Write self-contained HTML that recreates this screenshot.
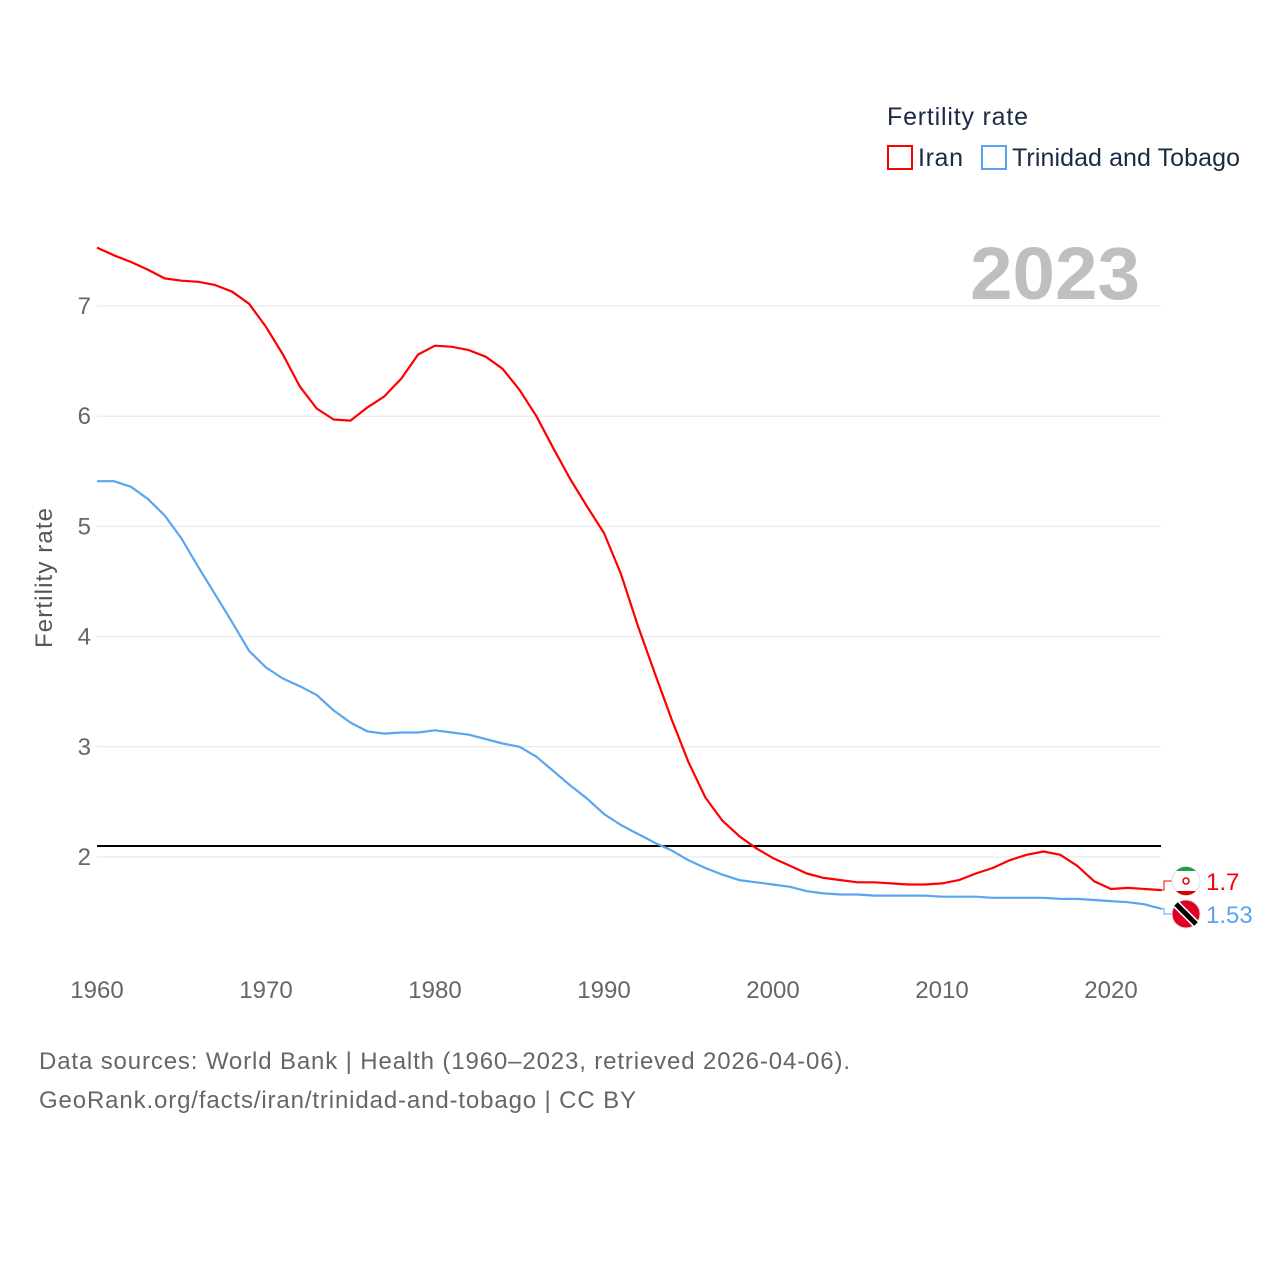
<!DOCTYPE html>
<html><head><meta charset="utf-8"><style>
body{margin:0;background:#fff;font-family:"Liberation Sans",sans-serif;}
svg text{font-family:"Liberation Sans",sans-serif;}
</style></head><body>
<svg width="1280" height="1280" viewBox="0 0 1280 1280">
<rect width="1280" height="1280" fill="#fff"/>
<g id="grid"></g>
<g id="series"></g>
<text x="970" y="299" textLength="170" lengthAdjust="spacingAndGlyphs" font-size="74" font-weight="bold" fill="#bfbfbf">2023</text>
<text x="52" y="578" transform="rotate(-90 52 578)" text-anchor="middle" textLength="140" font-size="24" fill="#555">Fertility rate</text>
<g>
<text x="887" y="125" textLength="141" font-size="25" fill="#1a2a44">Fertility rate</text>
<rect x="888" y="146" width="24" height="23" fill="none" stroke="#ff0000" stroke-width="2"/>
<text x="918" y="166" textLength="45" font-size="25" fill="#1a2a44">Iran</text>
<rect x="982" y="146" width="24" height="23" fill="none" stroke="#5aa5ef" stroke-width="2"/>
<text x="1012" y="166" textLength="228" font-size="25" fill="#1a2a44">Trinidad and Tobago</text>
</g>
<text x="39" y="1069" textLength="811" font-size="24" fill="#666">Data sources: World Bank | Health (1960–2023, retrieved 2026-04-06).</text>
<text x="39" y="1108" textLength="597" font-size="24" fill="#666">GeoRank.org/facts/iran/trinidad-and-tobago | CC BY</text>
</svg>
<script>
const years=[];for(let y=1960;y<=2023;y++)years.push(y);
const iran=[7.53,7.46,7.40,7.33,7.25,7.23,7.22,7.19,7.13,7.02,6.81,6.56,6.27,6.07,5.97,5.96,6.08,6.18,6.34,6.56,6.64,6.63,6.60,6.54,6.43,6.24,6.00,5.71,5.43,5.18,4.94,4.57,4.10,3.67,3.25,2.86,2.54,2.33,2.19,2.08,1.99,1.92,1.85,1.81,1.79,1.77,1.77,1.76,1.75,1.75,1.76,1.79,1.85,1.90,1.97,2.02,2.05,2.02,1.92,1.78,1.71,1.72,1.71,1.70];
const tt=[5.41,5.41,5.36,5.25,5.10,4.89,4.63,4.38,4.13,3.87,3.72,3.62,3.55,3.47,3.33,3.22,3.14,3.12,3.13,3.13,3.15,3.13,3.11,3.07,3.03,3.00,2.91,2.78,2.65,2.53,2.39,2.29,2.21,2.13,2.06,1.97,1.90,1.84,1.79,1.77,1.75,1.73,1.69,1.67,1.66,1.66,1.65,1.65,1.65,1.65,1.64,1.64,1.64,1.63,1.63,1.63,1.63,1.62,1.62,1.61,1.60,1.59,1.57,1.53];
const yTicks=[2,3,4,5,6,7];
const xTicks=[1960,1970,1980,1990,2000,2010,2020];
const replacement=2.1;
const NS="http://www.w3.org/2000/svg";
const X=y=>97+(y-1960)*(1111-97)/60;
const Y=v=>857-(v-2)*110.2;
const grid=document.getElementById('grid'),ser=document.getElementById('series');
function mk(tag,a,p){const e=document.createElementNS(NS,tag);for(const k in a)e.setAttribute(k,a[k]);p.appendChild(e);return e;}
yTicks.forEach(t=>{
 const l=mk('line',{x1:97,x2:1161,y1:Y(t),y2:Y(t),stroke:'#e6e6e6','stroke-width':1},grid);
 
 
 const tx=mk('text',{x:91,y:Y(t)+8,'text-anchor':'end','font-size':24,fill:'#666'},grid);tx.textContent=t;
 
 
});
xTicks.forEach(t=>{
 const tx=mk('text',{x:X(t),y:998,'text-anchor':'middle','font-size':24,fill:'#666'},grid);tx.textContent=t;
 
 
});
const rl=mk('line',{x1:97,x2:1161,y1:Y(replacement),y2:Y(replacement),stroke:'#000','stroke-width':2},ser);


function line(vals,col,name){
 const d=vals.map((v,i)=>(i?'L':'M')+X(years[i]).toFixed(1)+' '+Y(v).toFixed(1)).join(' ');
 const p=mk('path',{d:d,fill:'none',stroke:col,'stroke-width':2.2,'stroke-linejoin':'round'},ser);
 
 
}
line(iran,'#ff0000','iran');line(tt,'#5aa5ef','trinidad');
function endLabel(v,ly,col,name,txt){
 const ex=X(years[years.length-1]),ey=Y(v);
 const c=mk('path',{d:`M${ex} ${ey} L1164 ${ey} L1164 ${ly} L1172 ${ly}`,fill:'none',stroke:col,'stroke-width':1},ser);
 
 
 const f=mk('circle',{cx:1186,cy:ly,r:14,fill:name=='iran'?'#fff':'#e00025',stroke:'#ddd'},ser);
 
 
 if(name=='iran'){mk('path',{d:`M1176 ${ly-10} A14 14 0 0 1 1196 ${ly-10} Z`,fill:'#239f40'},ser);mk('path',{d:`M1176 ${ly+10} A14 14 0 0 0 1196 ${ly+10} Z`,fill:'#da0000'},ser);mk('circle',{cx:1186,cy:ly,r:3,fill:'none',stroke:'#da0000','stroke-width':1.5},ser);}
 else{mk('line',{x1:1176,y1:ly-10,x2:1196,y2:ly+10,stroke:'#fff','stroke-width':8},ser);mk('line',{x1:1176,y1:ly-10,x2:1196,y2:ly+10,stroke:'#000','stroke-width':5},ser);}
 const t=mk('text',{x:1206,y:ly+9,'font-size':24,fill:col},ser);t.textContent=txt;
 
 
}
endLabel(iran[iran.length-1],881,'#ff0000','iran',String(iran[iran.length-1]));
endLabel(tt[tt.length-1],914,'#5aa5ef','trinidad',String(tt[tt.length-1]));
</script>
</body></html>
